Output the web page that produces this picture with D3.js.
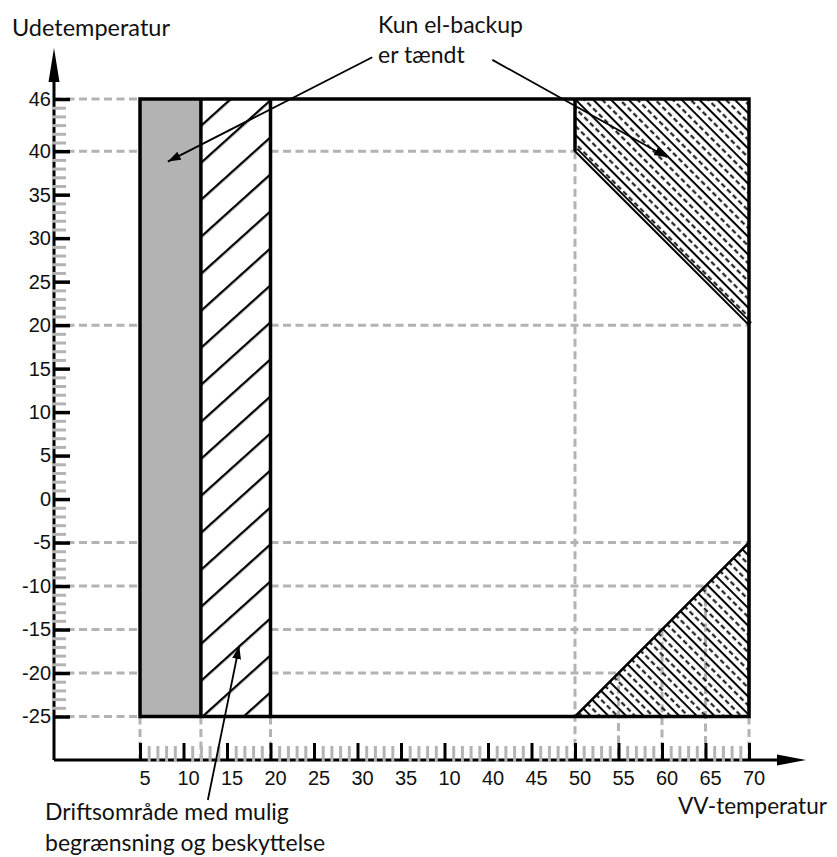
<!DOCTYPE html>
<html>
<head>
<meta charset="utf-8">
<script src="https://cdn.jsdelivr.net/npm/d3@7"></script>
<style>
  body { margin: 0; background: #fff; }
  svg { display: block; }
</style>
</head>
<body>
<div id="chart"></div>
<script>
// outdoor temperature ticks
let yTicks = [46, 40, 35, 30, 25, 20, 15, 10, 5, 0, -5, -10, -15, -20, -25];
// DHW temperature ticks - the sheet prints "10" where 40 should be and shifts the rest one step
let xTickValues = [5, 10, 15, 20, 25, 30, 35, 37.5, 40, 45, 50, 55, 60, 65, 70];
let xTickLabels = ["5", "10", "15", "20", "25", "30", "35", "10", "40", "45", "50", "55", "60", "65", "70"];

// zones as [vv-temp, outdoor temp]
let grayZone = [[5, -25], [12, -25], [12, 46], [5, 46]];
let limitZone = [[12, -25], [20, -25], [20, 46], [12, 46]];
let elTopZone = [[50, 46], [70, 46], [70, 20], [50, 40]];
let elBottomZone = [[50, -25], [70, -25], [70, -5]];
let frame = [[5, -25], [70, -25], [70, 46], [5, 46]];

// dashed grid
let hGridOuter = [46, 40, 20, -5, -10, -15, -20, -25];           // from y axis to the frame
let hGridInner = [[40, 20, 50], [20, 20, 70], [-5, 20, 70],      // [y, x from, x to]
                  [-10, 20, 65], [-15, 20, 60], [-20, 20, 55]];
let vGrid = [[5, -25], [12, -25], [20, -25], [50, 40],           // [x, top y], down to x axis
             [55, -20], [60, -15], [65, -10], [70, -25]];

// leader lines [from, to]
let leaders = [
  [[31.7, 50.8], [8.2, 38.8]],
  [[40.5, 50.5], [60.6, 39.3]],
  [[12.8, -34.6], [16.4, -16.9]]
];

let width = 837, height = 857;
let axisX = 54, axisY = 760;
let gridGray = "#b3b3b3";
let labelFont = "'Liberation Sans', Arial, sans-serif";
let noteFont = "Lato, 'Open Sans', sans-serif";

let svg = d3.select("#chart")
            .append("svg")
            .attr("width", width)
            .attr("height", height);

let xscale = d3.scaleLinear()
               .domain([5, 35, 40, 70])
               .range([140, 401, 488, 749]);

let yscale = d3.scaleLinear()
               .domain([-25, 46])
               .range([716.5, 99]);

let defs = svg.append("defs");

// "/" hatch for the limited zone
let pCol = defs.append("pattern")
               .attr("id", "hatchCol")
               .attr("patternUnits", "userSpaceOnUse")
               .attr("width", 10)
               .attr("height", 27.5)
               .attr("patternTransform", `translate(${xscale(12)},${yscale(-25)}) rotate(-42)`);
pCol.append("rect").attr("x", 0).attr("y", 0).attr("width", 10).attr("height", 2.3).attr("fill", "#000");

// "\" solid + dashed hatch for el-backup zones
let pEl = defs.append("pattern")
              .attr("id", "hatchEl")
              .attr("patternUnits", "userSpaceOnUse")
              .attr("width", 16)
              .attr("height", 12.5)
              .attr("patternTransform", "rotate(45)");
pEl.append("rect").attr("x", 0).attr("y", 0).attr("width", 16).attr("height", 2).attr("fill", "#000");
pEl.append("line")
   .attr("x1", 0).attr("x2", 16).attr("y1", 7.2).attr("y2", 7.2)
   .attr("stroke", "#000").attr("stroke-width", 1.8)
   .attr("stroke-dasharray", "5,3");

defs.append("marker")
    .attr("id", "arrow")
    .attr("markerUnits", "userSpaceOnUse")
    .attr("markerWidth", 14).attr("markerHeight", 10)
    .attr("refX", 13).attr("refY", 4.5)
    .attr("orient", "auto")
    .append("path")
    .attr("d", "M0,0 L13,4.5 L0,9 z")
    .attr("fill", "#000");

let toPts = pts => pts.map(p => [xscale(p[0]), yscale(p[1])].join(",")).join(" ");

// grid
let grid = svg.append("g")
              .attr("stroke", gridGray)
              .attr("stroke-width", 3)
              .attr("stroke-dasharray", "8,4.5")
              .attr("fill", "none");

grid.selectAll("line.ho")
    .data(hGridOuter)
    .enter()
    .append("line")
    .attr("x1", axisX).attr("x2", xscale(5))
    .attr("y1", d => yscale(d)).attr("y2", d => yscale(d));

grid.selectAll("line.hi")
    .data(hGridInner)
    .enter()
    .append("line")
    .attr("x1", d => xscale(d[1])).attr("x2", d => xscale(d[2]))
    .attr("y1", d => yscale(d[0])).attr("y2", d => yscale(d[0]));

grid.selectAll("line.v")
    .data(vGrid)
    .enter()
    .append("line")
    .attr("x1", d => xscale(d[0])).attr("x2", d => xscale(d[0]))
    .attr("y1", d => yscale(d[1])).attr("y2", axisY);

// zones
svg.append("polygon").attr("points", toPts(grayZone)).attr("fill", "#b3b3b3");
svg.append("polygon").attr("points", toPts(limitZone)).attr("fill", "#fff");
svg.append("polygon").attr("points", toPts(limitZone)).attr("fill", "url(#hatchCol)");
svg.append("polygon").attr("points", toPts(elTopZone)).attr("fill", "url(#hatchEl)")
   .attr("stroke", "#000").attr("stroke-width", 2).attr("stroke-linejoin", "round");
svg.append("polygon").attr("points", toPts(elBottomZone)).attr("fill", "url(#hatchEl)")
   .attr("stroke", "#000").attr("stroke-width", 2.5);

// second edge line along the top el-zone diagonal
svg.append("line")
   .attr("x1", xscale(50)).attr("y1", yscale(40))
   .attr("x2", xscale(70)).attr("y2", yscale(20))
   .attr("transform", "translate(2.2,-2.2)")
   .attr("stroke", "#000").attr("stroke-width", 1.8);

// frame and dividers
let frameG = svg.append("g").attr("stroke", "#000").attr("stroke-width", 3.5).attr("fill", "none");
frameG.append("polygon").attr("points", toPts(frame)).attr("stroke-linejoin", "miter");
frameG.selectAll("line.div")
      .data([12, 20])
      .enter()
      .append("line")
      .attr("x1", d => xscale(d)).attr("x2", d => xscale(d))
      .attr("y1", yscale(-25)).attr("y2", yscale(46));
frameG.append("line")
      .attr("x1", xscale(50)).attr("x2", xscale(50))
      .attr("y1", yscale(40)).attr("y2", yscale(46));

// y axis
svg.append("line")
   .attr("x1", axisX).attr("x2", axisX)
   .attr("y1", axisY).attr("y2", 80)
   .attr("stroke", "#000").attr("stroke-width", 3);
svg.append("path")
   .attr("d", `M${axisX},48 L${axisX - 5.5},82 L${axisX + 5.5},82 Z`)
   .attr("fill", "#000");

let yMinor = d3.range(-25, 47).filter(v => !yTicks.includes(v));
let yMinorAxis = svg.append("g")
   .attr("transform", `translate(${axisX - 2},0)`)
   .call(d3.axisLeft(yscale).tickValues(yMinor).tickSize(-14).tickFormat(""));
yMinorAxis.select(".domain").remove();
yMinorAxis.selectAll("line").attr("stroke", gridGray).attr("stroke-width", 3);

let yAxis = svg.append("g")
   .attr("transform", `translate(${axisX},0)`)
   .call(d3.axisLeft(yscale).tickValues(yTicks).tickSize(-16).tickPadding(3).tickFormat(d => d));
yAxis.select(".domain").remove();
yAxis.selectAll("line").attr("stroke", "#000").attr("stroke-width", 3.5);
yAxis.selectAll("text")
     .attr("font-family", labelFont)
     .attr("font-size", 20)
     .attr("fill", "#111");

// x axis
svg.append("line")
   .attr("x1", axisX).attr("x2", 780)
   .attr("y1", axisY).attr("y2", axisY)
   .attr("stroke", "#000").attr("stroke-width", 3);
svg.append("path")
   .attr("d", `M806,${axisY} L777,${axisY - 5.5} L777,${axisY + 5.5} Z`)
   .attr("fill", "#000");

let xMinor = [];
for (let i = 0; i < xTickValues.length - 1; i++) {
  let a = xTickValues[i], b = xTickValues[i + 1];
  for (let k = 1; k < 5; k++) xMinor.push(a + (b - a) * k / 5);
}
let xMinorAxis = svg.append("g")
   .attr("transform", `translate(0,${axisY + 2})`)
   .call(d3.axisBottom(xscale).tickValues(xMinor).tickSize(-16).tickFormat(""));
xMinorAxis.select(".domain").remove();
xMinorAxis.selectAll("line").attr("stroke", gridGray).attr("stroke-width", 3);

let xAxis = svg.append("g")
   .attr("transform", `translate(0,${axisY})`)
   .call(d3.axisBottom(xscale).tickValues(xTickValues).tickSize(-17).tickPadding(11)
           .tickFormat((d, i) => xTickLabels[i]));
xAxis.select(".domain").remove();
xAxis.selectAll("line").attr("stroke", "#000").attr("stroke-width", 3);
xAxis.selectAll("text")
     .attr("dx", 4.5)
     .attr("font-family", labelFont)
     .attr("font-size", 20)
     .attr("fill", "#111");

// leaders
svg.selectAll("line.leader")
   .data(leaders)
   .enter()
   .append("line")
   .attr("x1", d => xscale(d[0][0])).attr("y1", d => yscale(d[0][1]))
   .attr("x2", d => xscale(d[1][0])).attr("y2", d => yscale(d[1][1]))
   .attr("stroke", "#000")
   .attr("stroke-width", 1.8)
   .attr("marker-end", "url(#arrow)");

// texts
let note = (txt, x, y, size) => svg.append("text")
   .text(txt)
   .attr("x", x).attr("y", y)
   .attr("font-family", noteFont)
   .attr("font-size", size || 23)
   .attr("fill", "#111");

note("Udetemperatur", 12, 36, 23.5);
note("Kun el-backup", 378, 33);
note("er tændt", 378, 63);
note("Driftsområde med mulig", 45, 820);
note("begrænsning og beskyttelse", 45, 851);
note("VV-temperatur", 678, 814, 22.5);
</script>
</body>
</html>
